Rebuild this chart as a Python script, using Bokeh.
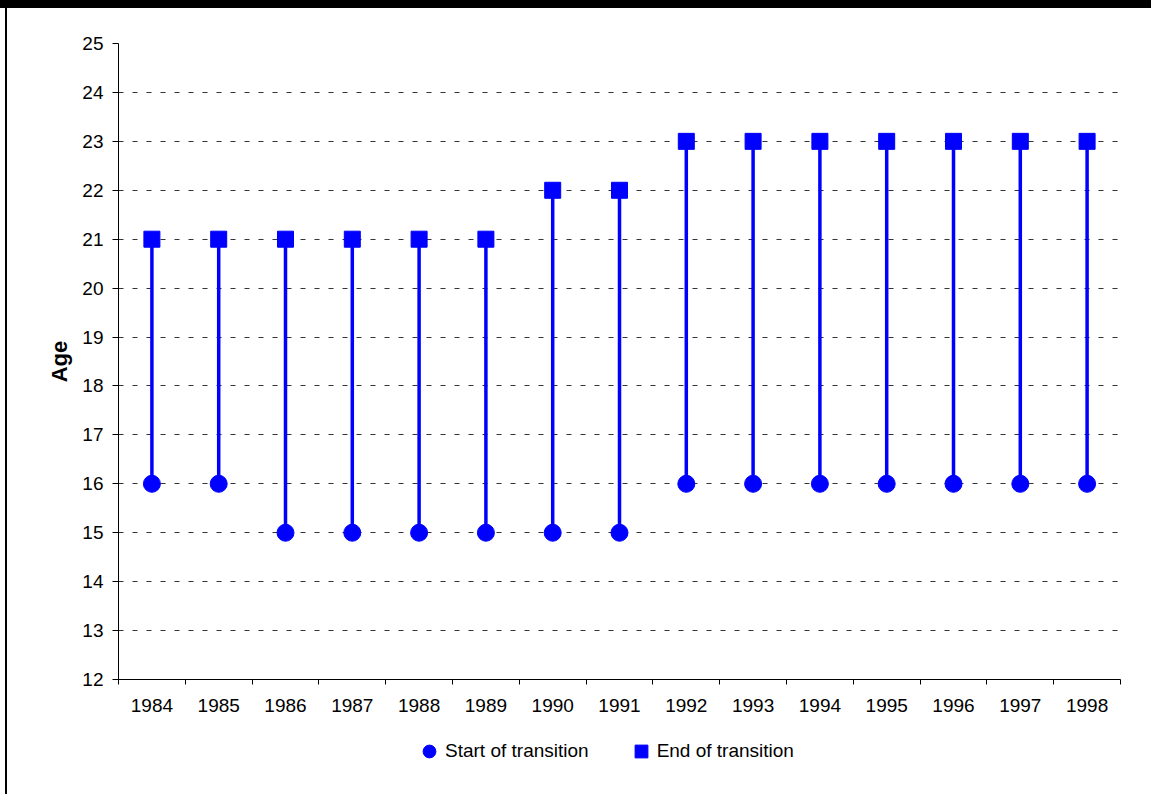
from bokeh.plotting import figure
from bokeh.models import FixedTicker, Legend, LegendItem, Range1d, ColumnDataSource, Div
from bokeh.layouts import column, row
from bokeh.embed import file_html
from bokeh.resources import INLINE

years = ["1984", "1985", "1986", "1987", "1988", "1989", "1990", "1991",
         "1992", "1993", "1994", "1995", "1996", "1997", "1998"]
start_age = [16, 16, 15, 15, 15, 15, 15, 15, 16, 16, 16, 16, 16, 16, 16]
end_age = [21, 21, 21, 21, 21, 21, 22, 22, 23, 23, 23, 23, 23, 23, 23]
y_ticks = list(range(12, 26))
series_names = ["Start of transition", "End of transition"]

xs = [i + 0.5 for i in range(len(years))]
src = ColumnDataSource(dict(x=xs, start=start_age, end=end_age, year=years))

# page layout: black band on top (8px), thin black line at left (x 5..7)
X_OFF, Y_OFF = 7, 8
W, H_MAIN, H_LEG = 1140, 716, 70
FONT = "Liberation Sans"
BLUE = "#0000FF"

p = figure(width=W, height=H_MAIN, output_backend="svg", toolbar_location=None,
           x_range=Range1d(0, len(years)), y_range=Range1d(12, 25),
           min_border_left=118 - X_OFF, min_border_right=W - (1120 - X_OFF),
           min_border_top=43 - Y_OFF, min_border_bottom=H_MAIN - (679 - Y_OFF))
p.outline_line_color = None
p.background_fill_color = "white"
p.border_fill_color = "white"

p.segment(x0="x", y0="start", x1="x", y1="end", source=src, line_color=BLUE, line_width=3.5)
p.scatter(x="x", y="start", source=src, marker="circle", size=17,
          fill_color=BLUE, line_color=BLUE)
p.scatter(x="x", y="end", source=src, marker="square", size=16,
          fill_color=BLUE, line_color=BLUE)

# x axis: labels at category centers, ticks at category boundaries
xa = p.xaxis[0]
xa.ticker = FixedTicker(ticks=xs, minor_ticks=list(range(len(years) + 1)))
xa.major_label_overrides = {x: y for x, y in zip(xs, years)}
xa.major_tick_line_color = None
xa.major_tick_out = 0
xa.major_tick_in = 0
xa.minor_tick_out = 5
xa.minor_tick_in = 0
xa.minor_tick_line_color = "black"
xa.major_label_standoff = 14
xa.major_label_text_font = FONT
xa.major_label_text_font_size = "19px"
xa.major_label_text_color = "black"
xa.axis_line_color = "black"

ya = p.yaxis[0]
ya.ticker = FixedTicker(ticks=y_ticks, minor_ticks=[])
ya.major_tick_out = 6
ya.major_tick_in = 0
ya.major_tick_line_color = "black"
ya.major_label_standoff = 9
ya.major_label_text_font = FONT
ya.major_label_text_font_size = "19px"
ya.major_label_text_color = "black"
ya.axis_line_color = "black"
ya.axis_label = "Age"
ya.axis_label_text_font = FONT
ya.axis_label_text_font_size = "22px"
ya.axis_label_text_font_style = "bold"
ya.axis_label_text_color = "black"
ya.axis_label_standoff = 7

p.xgrid.grid_line_color = None
p.ygrid.grid_line_color = "#333333"
p.ygrid.grid_line_dash = "5 9"
p.ygrid.grid_line_width = 1

# legend strip below the chart (its frame is aligned with the chart's frame)
lf = figure(width=W, height=H_LEG, output_backend="svg", toolbar_location=None,
            x_range=Range1d(0, 1), y_range=Range1d(0, 1),
            x_axis_type=None, y_axis_type=None,
            min_border_left=0, min_border_right=0, min_border_top=0, min_border_bottom=0)
lf.outline_line_color = None
lf.grid.visible = False
lf.border_fill_color = "white"
# dummy glyphs (outside the visible range) that only carry the legend styling
lr_start = lf.scatter(x=[5], y=[5], marker="circle", size=17, fill_color=BLUE, line_color=BLUE)
lr_end = lf.scatter(x=[5], y=[5], marker="square", size=16, fill_color=BLUE, line_color=BLUE)
legend = Legend(items=[LegendItem(label=series_names[0], renderers=[lr_start]),
                       LegendItem(label=series_names[1], renderers=[lr_end])],
                orientation="horizontal", location=(295, 27),
                glyph_width=32, glyph_height=32, label_standoff=0, spacing=36,
                padding=0, margin=0, border_line_color=None,
                background_fill_alpha=0,
                label_text_font=FONT, label_text_font_size="19px",
                label_text_color="black")
lf.add_layout(legend, "center")

top_band = Div(text="", width=1151, height=Y_OFF, margin=0,
               styles={"background-color": "black"})
left_gap = Div(text="", width=5, height=H_MAIN + H_LEG, margin=0,
               styles={"background-color": "white"})
left_line = Div(text="", width=2, height=H_MAIN + H_LEG, margin=0,
                styles={"background-color": "black"})
layout = column(top_band,
                row(left_gap, left_line, column(p, lf, spacing=0), spacing=0),
                spacing=0)

open("out.html", "w").write(file_html(layout, INLINE))
